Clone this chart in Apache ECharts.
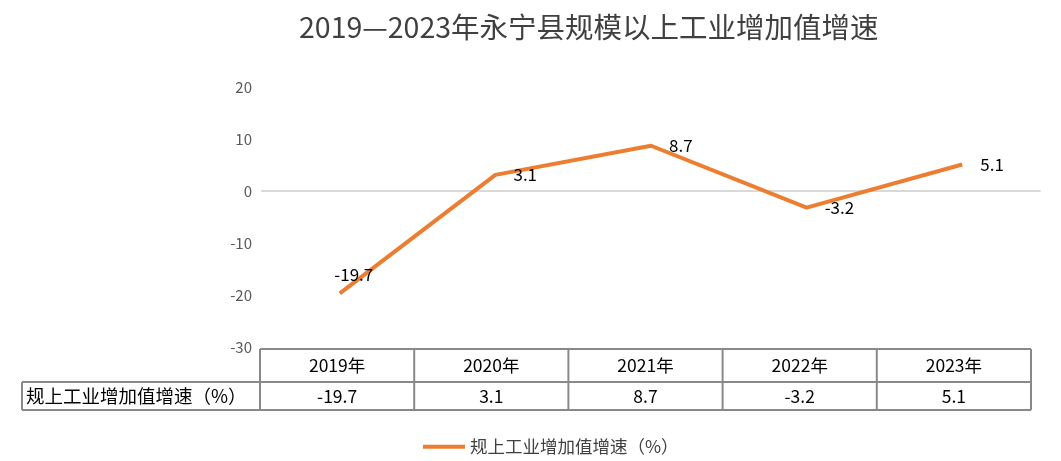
<!DOCTYPE html>
<html style="height: 100%">
<head>
    <meta charset="utf-8">
    <script src="https://cdn.jsdelivr.net/npm/echarts@6/dist/echarts.min.js"></script>
</head>
<body style="height: 100%; margin: 0; background: #fff">
<div id="container" style="width: 1061px; height: 461px"></div>

<script type="text/javascript">
    var years = ['2019年', '2020年', '2021年', '2022年', '2023年'];
    var growth = [-19.7, 3.1, 8.7, -3.2, 5.1];
    var seriesName = '规上工业增加值增速（%）';
    var yTicks = [-30, -20, -10, 0, 10, 20];

    var font = '"Noto Sans CJK SC", "Noto Sans", sans-serif';
    var dom = document.getElementById("container");
    var myChart = echarts.init(dom);

    // first point label sits above, the rest to the right (like the excel chart)
    var lineData = growth.map(function (v, i) {
        if (i === 0) {
            return {value: v, label: {position: 'top', distance: 10, offset: [14, 0]}};
        }
        return {value: v};
    });

    var option = {
        animation: false,
        title: {
            text: '2019—2023年永宁县规模以上工业增加值增速',
            left: 294,
            top: 8,
            textStyle: {fontFamily: font, fontSize: 28.5, fontWeight: 'normal', color: '#404040'}
        },
        legend: {
            left: 418,
            top: 433,
            icon: 'rect',
            itemWidth: 42,
            itemHeight: 4,
            itemGap: 6,
            textStyle: {fontFamily: font, fontSize: 17.5, color: '#404040'},
            data: [seriesName]
        },
        grid: {left: 262, right: 21, top: 87, bottom: 114},
        xAxis: {
            type: 'category',
            data: years,
            boundaryGap: true,
            axisLine: {onZero: true, lineStyle: {color: '#d9d9d9', width: 2}},
            axisTick: {show: false},
            axisLabel: {show: false}
        },
        yAxis: {
            type: 'value',
            min: yTicks[0],
            max: yTicks[yTicks.length - 1],
            interval: 10,
            axisLine: {show: false},
            axisTick: {show: false},
            splitLine: {show: false},
            axisLabel: {fontFamily: font, fontSize: 15, color: '#595959', margin: 10}
        },
        series: [{
            name: seriesName,
            type: 'line',
            symbol: 'circle',
            symbolSize: 0.1,
            data: lineData,
            lineStyle: {color: '#ED7D31', width: 4},
            itemStyle: {color: '#ED7D31'},
            label: {
                show: true,
                position: 'right',
                distance: 18,
                fontFamily: font,
                fontSize: 17,
                color: '#000'
            }
        }]
    };
    myChart.setOption(option);

    // data table under the plot, column edges taken from the category axis
    var border = {stroke: '#898989', lineWidth: 2};
    var x0 = myChart.convertToPixel({xAxisIndex: 0}, years[0]);
    var x1 = myChart.convertToPixel({xAxisIndex: 0}, years[1]);
    var band = x1 - x0;
    var tLeft = x0 - band / 2 - 2;
    var tRight = tLeft + (band - 1.4) * years.length;
    var colW = (tRight - tLeft) / years.length;
    var rowTop = myChart.convertToPixel({yAxisIndex: 0}, yTicks[0]) + 2;
    var rowMid = rowTop + 33;
    var rowBot = rowMid + 28;
    var labelLeft = 22;

    var els = [];
    function hline(xa, xb, y) {
        els.push({type: 'line', shape: {x1: xa, y1: y, x2: xb, y2: y}, style: border});
    }
    function vline(x, ya, yb) {
        els.push({type: 'line', shape: {x1: x, y1: ya, x2: x, y2: yb}, style: border});
    }
    function cell(txt, x, y, align, size) {
        els.push({type: 'text', x: x, y: y, style: {
            text: txt, fontFamily: font, fontSize: size || 17.5, fill: '#000',
            align: align || 'center', verticalAlign: 'middle'
        }});
    }
    hline(tLeft, tRight, rowTop);
    hline(labelLeft, tRight, rowMid);
    hline(labelLeft, tRight, rowBot);
    vline(labelLeft, rowMid, rowBot);
    for (var i = 0; i <= years.length; i++) {
        vline(tLeft + colW * i, rowTop, rowBot);
    }
    for (var j = 0; j < years.length; j++) {
        var cx = tLeft + colW * (j + 0.5);
        cell(years[j], cx, (rowTop + rowMid) / 2);
        cell(String(growth[j]), cx, (rowMid + rowBot) / 2);
    }
    cell(seriesName, labelLeft + 4, (rowMid + rowBot) / 2, 'left', 18.5);

    myChart.setOption({graphic: els});
</script>
</body>
</html>
